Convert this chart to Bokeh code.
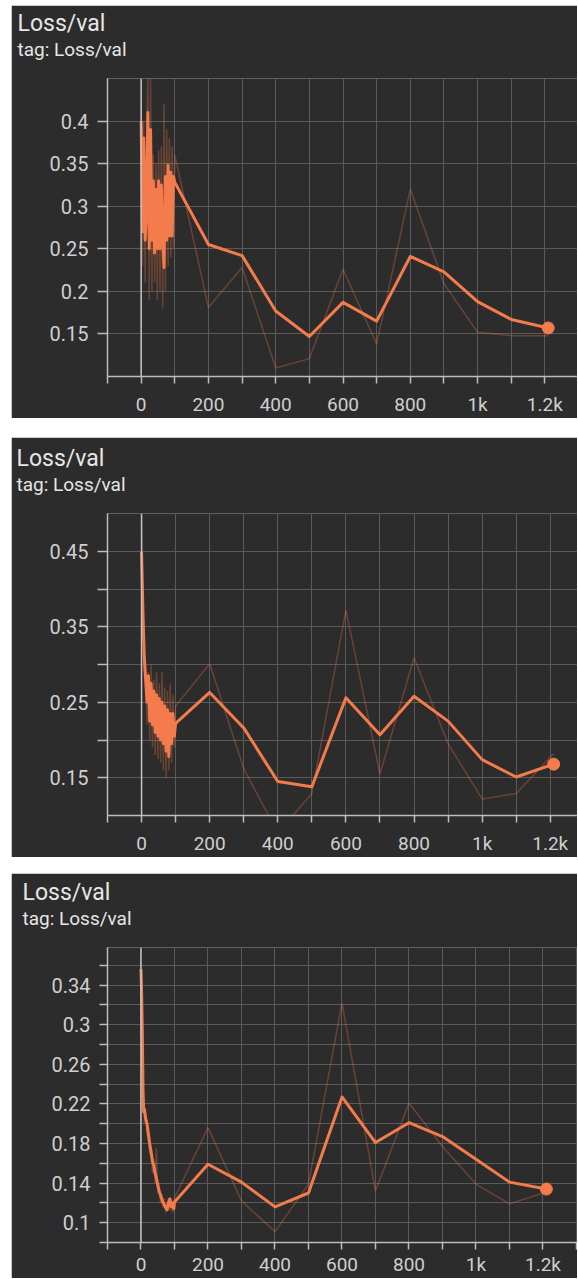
from bokeh.plotting import figure
from bokeh.models import Range1d, FixedTicker, CustomJSTickFormatter, Span, Title, Spacer
from bokeh.layouts import column
from bokeh.embed import file_html
from bokeh.resources import INLINE

# ---------------- data ----------------
title_text = "Loss/val"
subtitle_text = "tag: Loss/val"

x_major_ticks = [0, 200, 400, 600, 800, 1000, 1200]
x_minor_ticks = [-100, 100, 300, 500, 700, 900, 1100, 1300]

sparse_steps = [100, 200, 300, 400, 500, 600, 700, 800, 900, 1000, 1100, 1210]

# panel 1
p1_dense_steps = [0, 4, 8, 12, 16, 20, 24, 28, 32, 36, 40, 44, 48, 52, 56, 60, 64, 68, 72, 76, 80, 84, 88, 92, 96]
p1_dense_raw = [0.42, 0.23, 0.40, 0.21, 0.36, 0.46, 0.19, 0.45, 0.20, 0.36, 0.21, 0.35, 0.19,
                0.365, 0.20, 0.37, 0.18, 0.42, 0.20, 0.39, 0.23, 0.38, 0.24, 0.37, 0.25]
p1_dense_smooth = [0.40, 0.27, 0.38, 0.26, 0.30, 0.41, 0.25, 0.39, 0.26, 0.33, 0.245, 0.32, 0.25,
                   0.33, 0.25, 0.325, 0.26, 0.228, 0.335, 0.26, 0.348, 0.265, 0.34, 0.265, 0.335]
p1_raw = [0.36, 0.181, 0.228, 0.110, 0.121, 0.226, 0.138, 0.320, 0.209, 0.152, 0.148, 0.148]
p1_smooth = [0.328, 0.255, 0.242, 0.177, 0.147, 0.187, 0.165, 0.241, 0.223, 0.188, 0.167, 0.157]
p1_y_major = [0.15, 0.2, 0.25, 0.3, 0.35, 0.4]
p1_y_minor = []

# panel 2
p2_dense_steps = [0, 4, 8, 12, 16, 20, 24, 28, 32, 36, 40, 44, 48, 52, 56, 60, 64, 68, 72, 76, 80, 84, 88, 92, 96]
p2_dense_raw = [0.49, 0.36, 0.29, 0.30, 0.22, 0.29, 0.20, 0.30, 0.19, 0.28, 0.18, 0.29, 0.175,
                0.275, 0.17, 0.29, 0.16, 0.27, 0.15, 0.265, 0.16, 0.275, 0.17, 0.26, 0.19]
p2_dense_smooth = [0.449, 0.37, 0.31, 0.28, 0.25, 0.285, 0.225, 0.275, 0.22, 0.265, 0.21, 0.26, 0.205,
                   0.255, 0.20, 0.25, 0.195, 0.245, 0.185, 0.24, 0.178, 0.235, 0.195, 0.235, 0.205]
p2_raw = [0.245, 0.301, 0.162, 0.077, 0.129, 0.372, 0.155, 0.309, 0.195, 0.122, 0.129, 0.182]
p2_smooth = [0.222, 0.263, 0.216, 0.145, 0.138, 0.256, 0.207, 0.258, 0.225, 0.174, 0.151, 0.168]
p2_y_major = [0.15, 0.25, 0.35, 0.45]
p2_y_minor = [0.2, 0.3, 0.4]

# panel 3
p3_dense_steps = [0, 2, 4, 6, 8, 10, 14, 18, 22, 26, 30, 34, 38, 42, 46, 50, 54, 58, 62, 66, 70, 74, 78, 82, 86, 90, 94, 98]
p3_dense_raw = [0.35, 0.30, 0.24, 0.21, 0.22, 0.20, 0.21, 0.19, 0.182, 0.17, 0.175, 0.15, 0.165, 0.14,
                0.175, 0.13, 0.14, 0.12, 0.13, 0.115, 0.125, 0.11, 0.12, 0.125, 0.112, 0.125, 0.11, 0.12]
p3_dense_smooth = [0.356, 0.33, 0.29, 0.235, 0.212, 0.215, 0.205, 0.20, 0.19, 0.18, 0.172, 0.162, 0.158, 0.15,
                   0.145, 0.138, 0.132, 0.128, 0.124, 0.12, 0.118, 0.115, 0.113, 0.12, 0.124, 0.116, 0.12, 0.114]
p3_raw = [0.125, 0.196, 0.122, 0.091, 0.139, 0.322, 0.132, 0.221, 0.177, 0.139, 0.119, 0.131]
p3_smooth = [0.121, 0.159, 0.141, 0.116, 0.130, 0.227, 0.181, 0.201, 0.187, 0.164, 0.141, 0.134]
p3_y_major = [0.1, 0.14, 0.18, 0.22, 0.26, 0.3, 0.34]
p3_y_minor = [0.08, 0.12, 0.16, 0.2, 0.24, 0.28, 0.32, 0.36]

# ---------------- style ----------------
BG = "#2c2c2c"
GRID = "#5a5a5a"
AXIS = "#bdbdbd"
ZERO = "#c4c4c4"
TEXT = "#e6e6e6"
TICK_TEXT = "#cfcfcf"
ORANGE = "#f47b4c"
FONT = "Roboto"
FIG_W = 566

fmt_code = """
const t = Math.round(tick * 10000) / 10000;
if (Math.abs(t) >= 1000) { return (Math.round(t / 100) / 10) + 'k'; }
return String(t);
"""


def make_panel(height, b_top, b_bottom, b_left, x_end, y_start, y_end, y_major, y_minor,
               dense_steps, dense_raw, dense_smooth, raw, smooth, x_standoff, y_tick_out,
               sub_standoff, title_standoff):
    p = figure(width=FIG_W, height=height, output_backend="svg", toolbar_location=None,
               title=None,
               x_range=Range1d(-100, x_end), y_range=Range1d(y_start, y_end),
               min_border_top=b_top, min_border_bottom=b_bottom, min_border_left=b_left,
               min_border_right=0, background_fill_color=BG, border_fill_color=BG,
               outline_line_color=None, margin=(0, 0, 0, 11))

    xt = FixedTicker(ticks=x_major_ticks, minor_ticks=x_minor_ticks)
    yt = FixedTicker(ticks=y_major, minor_ticks=y_minor)
    p.xaxis.ticker = xt
    p.yaxis.ticker = yt
    p.xgrid.ticker = xt
    p.ygrid.ticker = yt
    p.xaxis.formatter = CustomJSTickFormatter(code=fmt_code)
    p.yaxis.formatter = CustomJSTickFormatter(code=fmt_code)

    for g in (p.xgrid, p.ygrid):
        g.grid_line_color = GRID
        g.grid_line_width = 1
        g.minor_grid_line_color = GRID
        g.minor_grid_line_width = 1

    for ax in (p.xaxis, p.yaxis):
        ax.axis_line_color = AXIS
        ax.axis_line_width = 1.5
        ax.major_tick_line_color = AXIS
        ax.minor_tick_line_color = AXIS
        ax.major_tick_line_width = 1.5
        ax.minor_tick_line_width = 1.5
        ax.major_tick_in = 0
        ax.minor_tick_in = 0
        ax.major_label_text_color = TICK_TEXT
        ax.major_label_text_font = FONT
    p.xaxis.major_label_text_font_size = "19px"
    p.yaxis.major_label_text_font_size = "20px"
    p.xaxis.major_tick_out = 7
    p.xaxis.minor_tick_out = 7
    p.xaxis.major_label_standoff = x_standoff
    p.yaxis.major_tick_out = y_tick_out
    p.yaxis.minor_tick_out = y_tick_out
    p.yaxis.major_label_standoff = 9

    p.add_layout(Span(location=0, dimension="height", line_color=ZERO, line_width=1.5))

    all_steps = dense_steps + sparse_steps
    all_raw = dense_raw + raw
    all_smooth = dense_smooth + smooth
    p.line(all_steps, all_raw, line_color=ORANGE, line_alpha=0.3, line_width=1.5)
    p.line(all_steps, all_smooth, line_color=ORANGE, line_width=3, line_join="round")
    p.scatter([all_steps[-1]], [all_smooth[-1]], size=12, fill_color=ORANGE, line_color=ORANGE)

    p.add_layout(Title(text=subtitle_text, align="left", offset=-(b_left - 5),
                       text_font=FONT, text_font_size="19px", text_font_style="normal",
                       text_color=TEXT, standoff=sub_standoff), "above")
    p.add_layout(Title(text=title_text, align="left", offset=-(b_left - 5),
                       text_font=FONT, text_font_size="23px", text_font_style="normal",
                       text_color=TEXT, standoff=title_standoff), "above")
    return p


p1 = make_panel(413, 73, 42, 95, 1297, 0.1, 0.45, p1_y_major, p1_y_minor,
                p1_dense_steps, p1_dense_raw, p1_dense_smooth, p1_raw, p1_smooth, 9, 10, 36, -38)
p2 = make_panel(420, 76, 42, 96, 1280, 0.1, 0.5, p2_y_major, p2_y_minor,
                p2_dense_steps, p2_dense_raw, p2_dense_smooth, p2_raw, p2_smooth, 9, 10, 36, -38)
p3 = make_panel(405, 74, 32, 90, 1303, 0.08, 0.378, p3_y_major, p3_y_minor,
                p3_dense_steps, p3_dense_raw, p3_dense_smooth, p3_raw, p3_smooth, 3, 8, 36, -38)

layout = column(Spacer(height=5), p1, Spacer(height=19), p2, Spacer(height=16), p3)

open("out.html", "w").write(file_html(layout, INLINE, "Loss/val"))
